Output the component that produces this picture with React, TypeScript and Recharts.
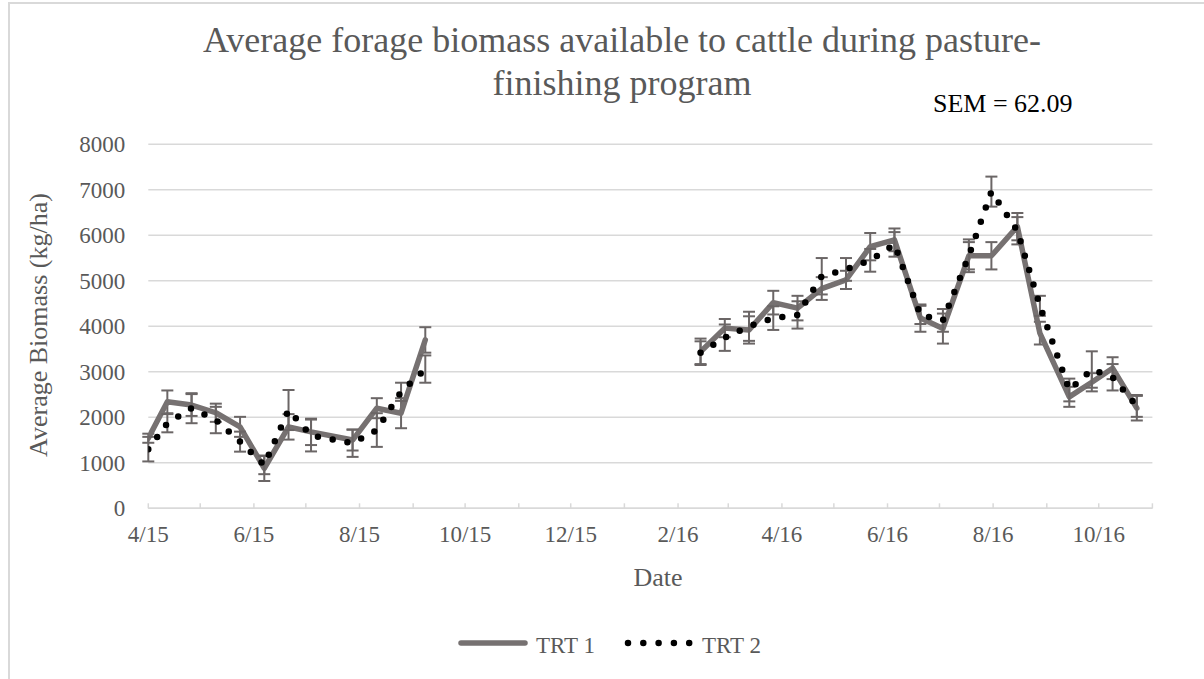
import { LineChart, Line, XAxis, YAxis, CartesianGrid, ErrorBar } from "recharts";

const FONT = '"Liberation Serif", "Times New Roman", serif';
const TEXT_GRAY = "#595959";
const GRID = "#d9d9d9";
const TRT1_COLOR = "#767171";
const BAR_COLOR = "#6b6666";

// sampling dates, 2015 season
const dates2015 = [
  "2015-04-01", "2015-04-12", "2015-04-26", "2015-05-10", "2015-05-24", "2015-06-07",
  "2015-06-21", "2015-07-04", "2015-07-28", "2015-08-11", "2015-08-25", "2015-09-08",
];
const trt1_2015 = [1540, 2340, 2270, 2100, 1790, 880, 1790, 1680, 1500, 2200, 2090, 3700];
const trt2_2015 = [1300, 1870, 2200, 1940, 1465, 950, 2160, 1600, 1430, 1720, 2560, 3060];
const trt1Se2015 = [100, 250, 240, 200, 220, 280, 280, 290, 230, 220, 330, 280];
const trt2Se2015 = [270, 200, 330, 290, 220, 200, 440, 350, 300, 370, 200, 300];

// sampling dates, 2016 season
const dates2016 = [
  "2016-02-14", "2016-02-28", "2016-03-13", "2016-03-27", "2016-04-10", "2016-04-24",
  "2016-05-08", "2016-05-22", "2016-06-05", "2016-06-20", "2016-07-03", "2016-07-18",
  "2016-07-31", "2016-08-15", "2016-08-28", "2016-09-14", "2016-09-27", "2016-10-09",
  "2016-10-23",
];
const trt1_2016 = [3440, 3960, 3920, 4520, 4400, 4830, 5020, 5750, 5900, 4180, 3950, 5550, 5550, 6190, 3850, 2450, 2770, 3080, 2200];
const trt2_2016 = [3420, 3750, 4000, 4180, 4250, 5100, 5250, 5450, 5800, 4250, 4130, 5550, 6960, 6100, 4450, 2600, 3050, 2880, 2250];
const trt1Se2016 = [290, 200, 300, 260, 270, 250, 200, 300, 250, 300, 330, 300, 300, 300, 250, 220, 200, 240, 270];
const trt2Se2016 = [250, 290, 320, 260, 300, 400, 250, 250, 270, 200, 250, 360, 330, 300, 220, 250, 400, 290, 240];

// axis
const monthTicks = [
  "2015-04-01", "2015-05-01", "2015-06-01", "2015-07-01", "2015-08-01", "2015-09-01",
  "2015-10-01", "2015-11-01", "2015-12-01", "2016-01-01", "2016-02-01", "2016-03-01",
  "2016-04-01", "2016-05-01", "2016-06-01", "2016-07-01", "2016-08-01", "2016-09-01",
  "2016-10-01", "2016-11-01",
];
const tickLabels = ["4/15", "6/15", "8/15", "10/15", "12/15", "2/16", "4/16", "6/16", "8/16", "10/16"];
const yTicks = [0, 1000, 2000, 3000, 4000, 5000, 6000, 7000, 8000];

const toTime = (d: string) => Date.parse(d + "T00:00:00Z");

const buildRows = (dates: string[], values: number[], errors: number[]) =>
  dates.map((d, i) => ({ t: toTime(d), v: values[i], e: errors[i] }));

const rows1a = buildRows(dates2015, trt1_2015, trt1Se2015);
const rows2a = buildRows(dates2015, trt2_2015, trt2Se2015);
const rows1b = buildRows(dates2016, trt1_2016, trt1Se2016);
const rows2b = buildRows(dates2016, trt2_2016, trt2Se2016);

const labelByTime = new Map<number, string>(
  tickLabels.map((l) => {
    const [m, y] = l.split("/").map(Number);
    return [Date.UTC(2000 + y, m - 1, 1), l];
  })
);

const W = 1204;
const H = 679;
const PLOT_LEFT = 148.3;
const PLOT_RIGHT = 1152.4;
const PLOT_TOP = 144.3;
const PLOT_BOTTOM = 508.3;
const X_AXIS_H = 60;

export default function App() {
  const trt1Line = {
    dataKey: "v",
    stroke: TRT1_COLOR,
    strokeWidth: 5.5,
    strokeLinejoin: "round" as const,
    strokeLinecap: "round" as const,
    dot: false,
    activeDot: false,
    isAnimationActive: false,
  };
  const trt2Line = {
    dataKey: "v",
    stroke: "#000000",
    strokeWidth: 6.5,
    strokeDasharray: "0 15",
    strokeLinecap: "round" as const,
    dot: false,
    activeDot: false,
    isAnimationActive: false,
  };
  const bar = <ErrorBar dataKey="e" width={6} stroke={BAR_COLOR} strokeWidth={2} direction="y" />;

  return (
    <div
      style={{
        position: "absolute",
        left: 0,
        top: 0,
        width: W,
        height: H,
        background: "#ffffff",
        overflow: "hidden",
        fontFamily: FONT,
      }}
    >
      <div
        style={{
          position: "absolute",
          left: 8,
          top: 2,
          width: W,
          height: H,
          borderLeft: `2px solid ${GRID}`,
          borderTop: `2px solid ${GRID}`,
        }}
      />
      <div style={{ position: "absolute", left: 0, top: 0 }}>
        <LineChart
          width={W}
          height={H}
          margin={{
            top: PLOT_TOP,
            right: W - PLOT_RIGHT,
            bottom: H - PLOT_BOTTOM - X_AXIS_H,
            left: 0,
          }}
        >
          <CartesianGrid vertical={false} stroke={GRID} strokeWidth={1.5} />
          <XAxis
            dataKey="t"
            type="number"
            domain={[toTime(monthTicks[0]), toTime(monthTicks[monthTicks.length - 1])]}
            allowDataOverflow
            ticks={monthTicks.map(toTime)}
            interval={0}
            tickFormatter={(v: number) => labelByTime.get(v) ?? ""}
            height={X_AXIS_H}
            axisLine={{ stroke: GRID, strokeWidth: 1.5 }}
            tickLine={{ stroke: GRID, strokeWidth: 1.5 }}
            tickSize={-5}
            tickMargin={22.7}
            tick={{ fill: TEXT_GRAY, fontSize: 23, fontFamily: FONT }}
          />
          <YAxis
            type="number"
            domain={[0, 8000]}
            ticks={yTicks}
            interval={0}
            width={PLOT_LEFT}
            axisLine={false}
            tickLine={false}
            tickSize={0}
            tickMargin={23}
            tick={{ fill: TEXT_GRAY, fontSize: 23, fontFamily: FONT }}
          />
          <Line data={rows1a} {...trt1Line}>{bar}</Line>
          <Line data={rows1b} {...trt1Line}>{bar}</Line>
          <Line data={rows2a} {...trt2Line}>{bar}</Line>
          <Line data={rows2b} {...trt2Line}>{bar}</Line>
        </LineChart>
      </div>

      <svg
        width={W}
        height={H}
        style={{ position: "absolute", left: 0, top: 0, pointerEvents: "none" }}
        fontFamily={FONT}
      >
        <text x={622} y={51.7} textAnchor="middle" fontSize={36} fill={TEXT_GRAY}>
          Average forage biomass available to cattle during pasture-
        </text>
        <text x={622} y={95} textAnchor="middle" fontSize={36} fill={TEXT_GRAY}>
          finishing program
        </text>
        <text x={933} y={112} fontSize={26} fill="#000000">
          SEM = 62.09
        </text>
        <text
          x={38}
          y={325}
          dy="0.35em"
          textAnchor="middle"
          fontSize={26}
          fill={TEXT_GRAY}
          transform="rotate(-90 38 325)"
        >
          Average Biomass (kg/ha)
        </text>
        <text x={658} y={586} textAnchor="middle" fontSize={26} fill={TEXT_GRAY}>
          Date
        </text>

        <line x1={461} y1={643} x2={525} y2={643} stroke={TRT1_COLOR} strokeWidth={5.5} strokeLinecap="round" />
        <text x={536} y={652.5} fontSize={23} fill={TEXT_GRAY}>
          TRT 1
        </text>
        <line
          x1={628}
          y1={643}
          x2={690}
          y2={643}
          stroke="#000000"
          strokeWidth={6.5}
          strokeDasharray="0 15.3"
          strokeLinecap="round"
        />
        <text x={702} y={652.5} fontSize={23} fill={TEXT_GRAY}>
          TRT 2
        </text>
      </svg>
    </div>
  );
}
